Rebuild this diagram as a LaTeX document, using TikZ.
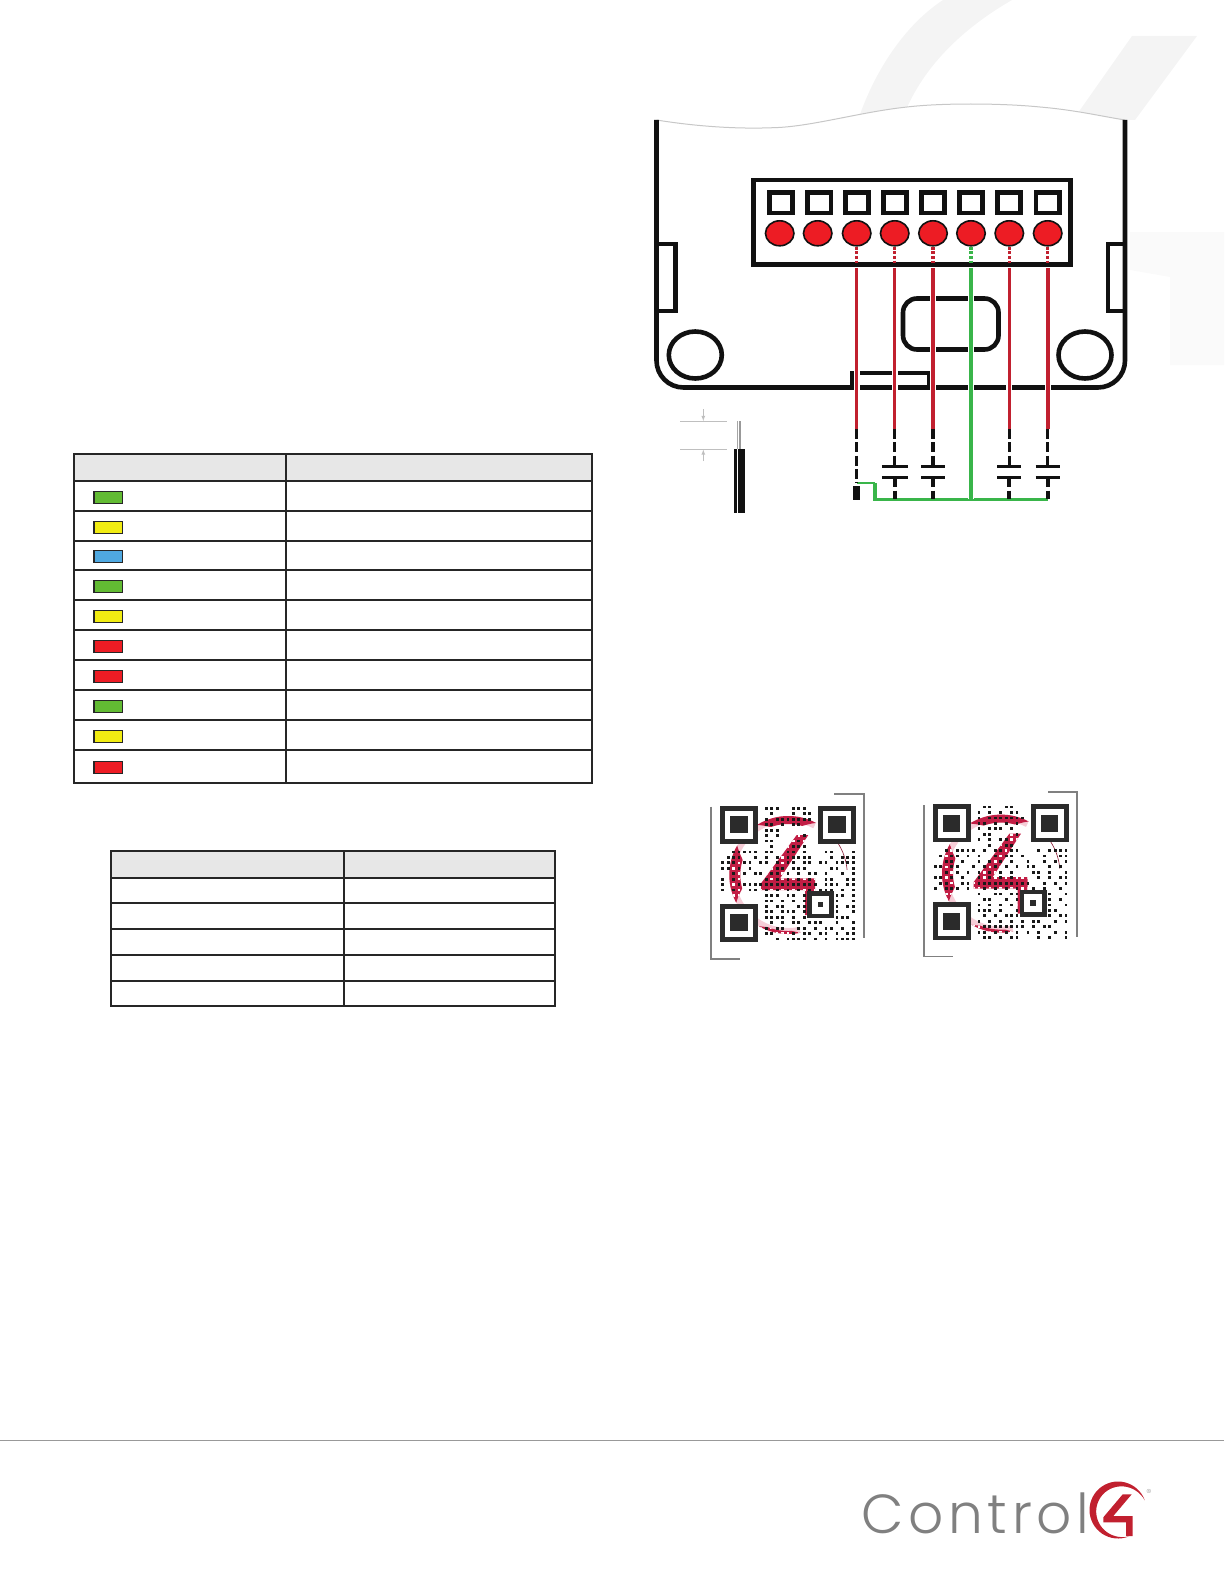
\documentclass[tikz,border=0pt]{standalone}
\usepackage{fontspec}
\usepackage{xcolor}
\usetikzlibrary{shapes.geometric}

\newfontfamily\logofont[LetterSpace=8.5]{Poppins Light}

\definecolor{markgray}{HTML}{F4F4F4}
\definecolor{markfaint}{HTML}{FAFAFA}
\definecolor{ink}{HTML}{111111}
\definecolor{ledred}{HTML}{ED1C24}
\definecolor{wirered}{HTML}{C1202F}
\definecolor{wiregreen}{HTML}{39B54A}
\definecolor{ledgreen}{HTML}{62BB33}
\definecolor{ledyellow}{HTML}{F1EC12}
\definecolor{ledblue}{HTML}{4FA8E0}
\definecolor{headfill}{HTML}{E7E7E7}
\definecolor{qrink}{HTML}{2B2B2B}
\definecolor{qrred}{HTML}{C21E45}
\definecolor{qrpink}{HTML}{F6CDD7}
\definecolor{logogray}{HTML}{808080}

% Tapered arc: centre x, centre y, radius, width, from, to, bluntness
\newcommand{\crescent}[7]{plot[domain=#5:#6,samples=40] ({#1+#3*cos(\x)},{#2-#3*sin(\x)})
    -- plot[domain=#6:#5,samples=40] ({#1+(#3-#4*min(1,#7*sin(180/(#6-#5)*(\x-#5))))*cos(\x)},{#2-(#3-#4*min(1,#7*sin(180/(#6-#5)*(\x-#5))))*sin(\x)}) -- cycle}

\newcommand{\qrmark}{(76.7,29.3) -- (88.3,29.3) -- (60,72.7) -- (95,72.7) -- (95,109.3) -- (85,109.3)
    -- (85,84.3) -- (41,84.3) -- (41,77.7) -- cycle
    \crescent{68.3}{69.3}{59}{8}{62}{122}{1.7}
    \crescent{68.3}{69.3}{59}{11}{150}{208}{1.7}
    \crescent{68.3}{69.3}{59}{3}{240}{282}{1.7}}

% Modules of the two codes: row/columns
\newcommand{\qrA}{0/{8,9,10,13,14,15},1/{9,13,15,16},2/{8,10,11,12,13,14,15,16},3/{8,9,11,13,14},4/{8,9,10},
    5/{8,10,15},6/{8,9,14},7/{9,13,14,15},8/{2,3,4,5,6,8,9,12,13,15,19,20,24},
    9/{1,2,3,6,8,10,12,13,14,15,16,20,22,23,24},10/{0,1,2,4,5,7,8,10,12,13,15,16,18,19,21,22,23,24},
    11/{0,1,3,5,10,11,13,14,15,20,21,24},12/{2,4,6,7,9,10,12,14,16,17,19,22,24},
    13/{0,2,8,10,12,14,16,19,20,23,24},14/{0,3,4,5,6,7,8,9,10,11,12,13,14,15,16,17,19,20,21,23,24},
    15/{0,2,5,6,8,10,12,14,16,18,19,20,22,24},16/{8,9,10,12,13,15,21,22,24},17/{8,9,11,13,15,21,24},
    18/{8,10,11,14,15,21,23,24},19/{8,9,11,12,13,15,21,24},20/{8,9,10,11,13,15,21,22,23},
    21/{9,11,13,14,16,17,18,21,24},22/{8,10,11,14,15,17,19,20,22,24},23/{8,9,13,15,16,18,19,21,23,24},
    24/{10,12,13,14,15,17,19,21,22,23,24}}
\newcommand{\qrB}{0/{9,10,13,14},1/{8,10,12,14,15},2/{8,10,11,12,13,14,15,16},3/{8,9,11,13,15},4/{8,10,11,12,14},
    5/{9,10,15},6/{8,10,12,13},7/{10,13,14},8/{2,4,5,6,7,9,11,12,14,15,19,21,22,23,24},
    9/{1,3,4,6,8,11,13,14,16,20,23,24},10/{2,3,5,8,10,12,14,17,20,22,24},11/{0,1,3,4,7,9,11,13,15,17,18,21,23},
    12/{2,4,6,8,10,12,14,18,19,21,24},13/{0,1,3,5,8,10,12,14,19,21,23,24},
    14/{1,2,5,6,8,9,10,11,12,13,14,15,16,17,20,22,24},15/{0,2,3,4,6,9,11,13,15,18,20,23},
    16/{8,11,12,14,15,21,24},17/{9,10,13,15,21,23},18/{8,10,12,14,21,24},19/{8,9,10,12,15,21,22},
    20/{9,11,13,14,15,21,23,24},21/{8,10,12,14,16,18,19,22,24},22/{9,10,11,12,13,14,15,16,18,20,21},
    23/{8,9,11,13,15,17,19,22,24},24/{9,10,12,14,15,19,21,24}}

\tikzset{
    qrcode/.pic = {
        % Pale ring and red mark
        \draw[qrpink, line width=6pt] plot[domain=62:282,samples=50] ({68.3+56*cos(\x)},{69.3-56*sin(\x)});
        \draw[qrred!70!black, line width=0.6pt] plot[domain=5:42,samples=12] ({68.3+59*cos(\x)},{69.3-59*sin(\x)});
        \fill[qrred] \qrmark;
        \begin{scope}
            \clip \qrmark;
            \foreach \row in {5,...,24}
                \foreach \col in {0,...,24}
                    \fill[white] ({\col*5.44+1.42},{\row*5.44+1.42}) rectangle +(2.6,2.6);
        \end{scope}
        % Dark modules
        \foreach \row/\cols in #1
            \foreach \col in \cols
                \fill[black!90] ({\col*5.44+1.32},{\row*5.44+1.32}) rectangle +(2.8,2.8);
        % Finder squares
        \foreach \fx/\fy in {0/0,98/0,0/98} {
            \draw[qrink, line width=4.8pt, fill=white] (\fx+2.4,\fy+2.4) rectangle +(33.2,33.2);
            \fill[qrink] (\fx+10.4,\fy+10.4) rectangle +(17.2,17.2);
        }
        % Alignment square
        \draw[qrink, line width=4.6pt, fill=white] (89.3,87.7) rectangle +(22.4,22.4);
        \fill[qrink] (97.7,96.1) rectangle +(5.6,5.6);
    }
}

\begin{document}
\begin{tikzpicture}[x=1pt, y=-1pt,
    body/.style = {ink, line width=4.6pt},
    tableline/.style = {black!85, line width=1.8pt},
    termsq/.style = {rectangle, draw=ink, fill=white, line width=4.7pt,
        minimum width=23.3pt, minimum height=20.3pt, inner sep=0pt},
    termled/.style = {ellipse, draw=ink, fill=ledred, line width=1.6pt,
        minimum width=28.5pt, minimum height=25pt, inner sep=0pt},
    swatch/.style = {rectangle, draw=black!85, line width=1.5pt,
        minimum width=28.5pt, minimum height=12pt, inner sep=0pt},
    probe/.style = {rectangle, fill=ink, minimum width=6.8pt, minimum height=14pt, inner sep=0pt},
    wire/.style = {line width=#1, preaction={draw, white, line width=6pt}},
    stub/.style = {line width=3.4pt, dash pattern=on 3pt off 1.7pt},
    lead/.style = {ink, line width=#1, dash pattern=on 10pt off 3.3pt},
    bracket/.style = {logogray, line width=1.3pt}]

\useasboundingbox (0,0) rectangle (1224,1584);

% Watermark behind the device
\fill[markgray] (858,120) .. controls (875,70) and (905,25) .. (943,0) -- (1012,0)
    .. controls (960,30) and (920,70) .. (902,120) -- cycle;
\fill[markgray] (1132,36) -- (1197,36) -- (1135,120) -- (1073,120) -- cycle;
\fill[markfaint] (1130,232) -- (1224,232) -- (1224,365) -- (1170,365) -- (1170,277) -- (1130,270) -- cycle;

% Device outline
\fill[white] (656.5,120) .. controls (700,127) and (740,129) .. (773,127.7)
    .. controls (810,127) and (860,112) .. (907,107)
    .. controls (940,103) and (1000,103) .. (1040,107)
    .. controls (1075,110) and (1100,116) .. (1125,120) -- (1125,387) -- (656.5,387) -- cycle;
\draw[black!22, line width=1pt] (656.5,120) .. controls (700,127) and (740,129) .. (773,127.7)
    .. controls (810,127) and (860,112) .. (907,107)
    .. controls (940,103) and (1000,103) .. (1040,107)
    .. controls (1075,110) and (1100,116) .. (1125,120);
\draw[body, rounded corners=27pt] (656.5,120) -- (656.5,387.5) -- (1125,387.5) -- (1125,120);
\draw[body] (656.5,244) -- (675.5,244) -- (675.5,311) -- (656.5,311);
\draw[body] (1125,244) -- (1108,244) -- (1108,311) -- (1125,311);
\draw[body] (695.3,355) ellipse [x radius=26.5, y radius=23.5];
\draw[body] (1085,355) ellipse [x radius=26.5, y radius=23.5];
\draw[body, rounded corners=14pt] (903,298.5) rectangle (998.5,349.5);
\draw[body, line width=4pt] (852,387) -- (852,372.5) -- (929,372.5) -- (929,387);

% Terminal block
\draw[body] (753.5,180) rectangle (1070.5,264.3);
\foreach \name/\sx/\lx in {1/781/779.7, 2/819.3/817.7, 3/857/856.7, 4/895/894.7,
        5/933/933, 6/971/971, 7/1009/1009.3, 8/1047.7/1047.7} {
    \node[termsq] (sq\name) at (\sx,202.7) {};
    \node[termled] (t\name) at (\lx,233.3) {};
}

% Wires
\coordinate (wtop) at (0,268);
\coordinate (wend) at (0,429);
\coordinate (stubend) at (0,262.5);
\coordinate (capa) at (0,466.3);
\coordinate (capb) at (0,477.3);
\coordinate (bus) at (0,499.3);
\coordinate (jog) at (875,483);

\foreach \t in {t3,t4,t5,t7,t8}
    \draw[stub, wirered] (\t.south) -- (\t |- stubend);
\draw[stub, wiregreen] (t6.south) -- (t6 |- stubend);

\foreach \t/\wd in {t3/2.8pt, t4/2.8pt, t5/4pt, t7/3pt, t8/3.8pt}
    \draw[wire=\wd, wirered] (\t |- wtop) -- (\t |- wend);

% Green return
\draw[wiregreen, line width=2.4pt] (t3 |- jog) -- (jog);
\draw[wiregreen, line width=3.6pt] (jog) -- (jog |- bus) -- (t8 |- bus);
\draw[wire=4.4pt, wiregreen] (t6 |- wtop) -- (t6 |- bus);

% Probe and capacitors
\draw[lead=3pt] (t3 |- wend) -- (t3 |- jog);
\node[probe] (tip) at (856.7,493) {};
\foreach \t/\wd/\halfw in {t4/2.8pt/12.8, t5/3.6pt/12, t7/2.8pt/12, t8/3.4pt/12} {
    \draw[lead=\wd] (\t |- wend) -- (\t |- capa);
    \draw[lead=3.8pt] (\t |- capb) -- (\t |- bus);
    \draw[ink, line width=3pt] (\t |- capa) ++(-\halfw,0) -- ++(2*\halfw,0);
    \draw[ink, line width=3pt] (\t |- capb) ++(-\halfw,0) -- ++(2*\halfw,0);
}

% Strip gauge and wire end
\draw[black!25, line width=1pt] (680,421.3) -- (727,421.3);
\draw[black!25, line width=1pt] (680,449.3) -- (727,449.3);
\draw[black!25, line width=0.8pt, -latex] (703.3,409) -- (703.3,421);
\draw[black!25, line width=0.8pt, -latex] (703.3,461) -- (703.3,449.5);
\draw[black!35, line width=0.8pt] (737.5,421.3) -- (737.5,449);
\draw[black!40, line width=2pt] (740.3,421.3) -- (740.3,449);
\fill[ink] (734,449) rectangle (745,513.3);
\draw[white, line width=1pt] (737.7,449) -- (737.7,513.3);

% LED table
\fill[headfill] (74,454) rectangle (591.8,480.7);
\foreach \y in {480.7,510.7,540.7,570,600,630,660,690,720,750}
    \draw[tableline] (74,\y) -- (591.8,\y);
\draw[tableline] (286,454) -- (286,782.7);
\draw[tableline] (74,454) rectangle (591.8,782.7);
\foreach \name/\y/\shade in {1/497.7/ledgreen, 2/527.7/ledyellow, 3/556.7/ledblue, 4/586.7/ledgreen,
        5/616.7/ledyellow, 6/646.7/ledred, 7/676.7/ledred, 8/706.7/ledgreen, 9/736.7/ledyellow, 10/767.7/ledred}
    \node[swatch, fill=\shade] (led\name) at (108.3,\y) {};

% Second table
\fill[headfill] (111,851) rectangle (555,877.7);
\foreach \y in {877.7,903.3,929,954.7,980.7}
    \draw[tableline] (111,\y) -- (555,\y);
\draw[tableline] (344.3,851) -- (344.3,1005.7);
\draw[tableline] (111,851) rectangle (555,1005.7);

% QR codes and their brackets
\pic at (720,805.7) {qrcode=\qrA};
\pic at (932.7,804.3) {qrcode=\qrB};
\draw[bracket] (711,806.7) -- (711,959) -- (740,959);
\draw[bracket] (834,794) -- (864,794) -- (864,938.3);
\draw[bracket] (924,805) -- (924,956.7) -- (953.3,956.7);
\draw[bracket] (1048.3,792) -- (1077,792) -- (1077,936.7);

% Footer and logo
\draw[black!40, line width=1pt] (0,1440) -- (1224,1440);
\node[anchor=base west, inner sep=0pt, text=logogray, font=\logofont\fontsize{55}{55}\selectfont] (logotext) at (861,1533.5) {Control};
\fill[wirered] \crescent{1118}{1510}{28.5}{7}{20}{292}{1};
\fill[wirered] (1122.7,1494.3) -- (1131.7,1494.3) -- (1113.3,1516) -- (1132.7,1516) -- (1132.7,1536)
    -- (1126,1536) -- (1126,1522.3) -- (1103.3,1522.3) -- (1103.3,1517.3) -- cycle;
\node[inner sep=0pt, text=logogray, font=\fontsize{6}{6}\selectfont] (logoreg) at (1149,1491.7) {\textregistered};
\end{tikzpicture}
\end{document}
